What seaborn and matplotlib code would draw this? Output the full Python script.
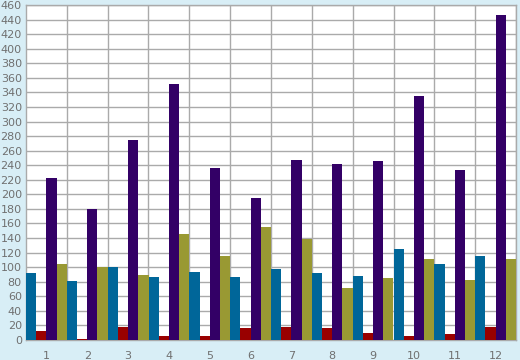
import numpy as np
import pandas as pd
import matplotlib
matplotlib.use("Agg")
import matplotlib.pyplot as plt
import seaborn as sns

groups = ['1', '2', '3', '4', '5', '6', '7', '8', '9', '10', '11', '12']
blue = [92, 81, 100, 86, 93, 86, 97, 92, 88, 125, 104, 115]
red = [12, 2, 18, 5, 5, 16, 18, 16, 10, 5, 8, 18]
purple = [222, 180, 275, 351, 236, 195, 247, 242, 246, 335, 233, 446]
olive = [105, 100, 89, 145, 116, 155, 139, 71, 85, 111, 82, 111]

series = ['S1', 'S2', 'S3', 'S4']
colors = ['#006699', '#990000', '#330066', '#999933']

df = pd.DataFrame({'group': groups * 4,
                   'series': np.repeat(series, len(groups)),
                   'value': blue + red + purple + olive})

sns.set_style('white')
plt.rcParams['font.family'] = ['DejaVu Sans']

fig = plt.figure(figsize=(5.2, 3.6), dpi=100, facecolor='#d8eef6')
ax = fig.add_axes([26 / 520, 20 / 360, 490 / 520, 335 / 360])
ax.set_facecolor('white')

sns.barplot(data=df, x='group', y='value', hue='series', hue_order=series,
            palette=colors, width=1.0, gap=0, saturation=1, errorbar=None,
            edgecolor='none', linewidth=0, legend=False, ax=ax, zorder=3)

ax.set_xlim(-0.5, len(groups) - 0.5)
ax.set_ylim(0, 460)
ax.set_yticks(range(0, 461, 20))
ax.set_xticks(np.arange(len(groups)) + 0.5, minor=True)
ax.tick_params(axis='x', which='major', length=0, pad=8, labelsize=8, labelcolor='#707070')
ax.tick_params(axis='x', which='minor', length=5, color='#999999', width=1)
ax.tick_params(axis='y', length=0, pad=3, labelsize=8, labelcolor='#707070')
ax.grid(axis='y', color='#aaaaaa', linewidth=1, zorder=0)
ax.grid(axis='x', which='minor', color='#aaaaaa', linewidth=1, zorder=0)
ax.set_axisbelow(True)
for s in ax.spines.values():
    s.set_color('#aaaaaa')
    s.set_linewidth(1)
ax.set_xlabel('')
ax.set_ylabel('')

fig.savefig('out.png', dpi=100, facecolor=fig.get_facecolor())
